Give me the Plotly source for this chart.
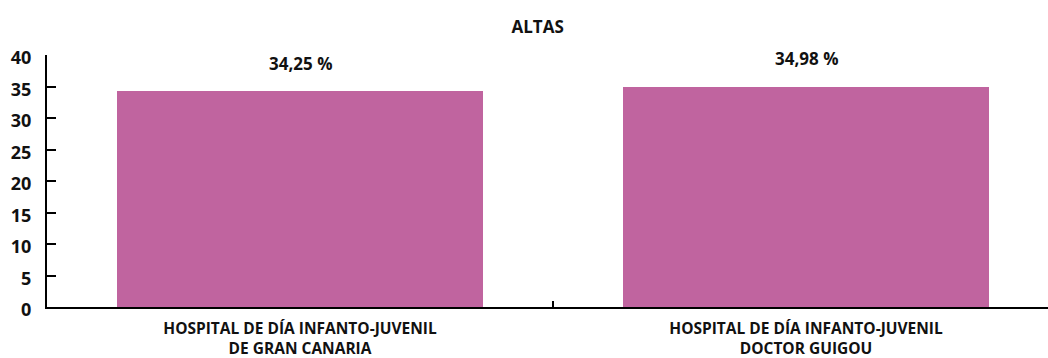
import plotly.graph_objects as go

# Datos
centros = [
    "HOSPITAL DE DÍA INFANTO-JUVENIL<br>DE GRAN CANARIA",
    "HOSPITAL DE DÍA INFANTO-JUVENIL<br>DOCTOR GUIGOU",
]
altas = [34.25, 34.98]
etiquetas = ["34,25 %", "34,98 %"]
y_ticks = [0, 5, 10, 15, 20, 25, 30, 35, 40]

COLOR_BARRA = "#C0649F"
FUENTE = "Open Sans, Noto Sans, sans-serif"

fig = go.Figure(
    go.Bar(
        x=centros,
        y=altas,
        marker=dict(color=COLOR_BARRA, line=dict(width=0)),
        width=0.723,
        hoverinfo="skip",
    )
)

# Etiquetas de valor sobre cada barra
for c, v, t in zip(centros, altas, etiquetas):
    fig.add_annotation(
        x=c, y=v, text=t, showarrow=False, yshift=28,
        font=dict(family=FUENTE, size=17, color="#111111", weight=700),
    )

fig.update_layout(
    width=1048,
    height=358,
    margin=dict(l=47, r=0, t=55, b=51),
    paper_bgcolor="white",
    plot_bgcolor="white",
    showlegend=False,
    title=dict(
        text="ALTAS",
        x=0.513, xanchor="center",
        y=1 - 27 / 358, yanchor="middle",
        font=dict(family=FUENTE, size=17, color="#111111", weight=700),
    ),
    bargap=0,
)

fig.update_xaxes(
    type="category",
    range=[-0.5, -0.5 + (1048 - 47) / 506],
    automargin=False,
    showline=True, linecolor="black", linewidth=2,
    ticks="inside", ticklen=6, tickwidth=2, tickcolor="black",
    tickson="boundaries",
    showgrid=False,
    ticklabelstandoff=6,
    tickfont=dict(family=FUENTE, size=15.5, color="#111111", weight=700),
)

fig.update_yaxes(
    range=[0, 40],
    automargin=False,
    tickvals=y_ticks,
    ticktext=[str(v) for v in y_ticks],
    showline=True, linecolor="black", linewidth=2,
    ticks="inside", ticklen=9, tickwidth=2, tickcolor="black",
    showgrid=False, zeroline=False,
    ticklabelstandoff=10,
    ticklabelshift=3,
    tickfont=dict(family=FUENTE, size=18, color="#111111", weight=700),
)

fig.write_html("out.html")
